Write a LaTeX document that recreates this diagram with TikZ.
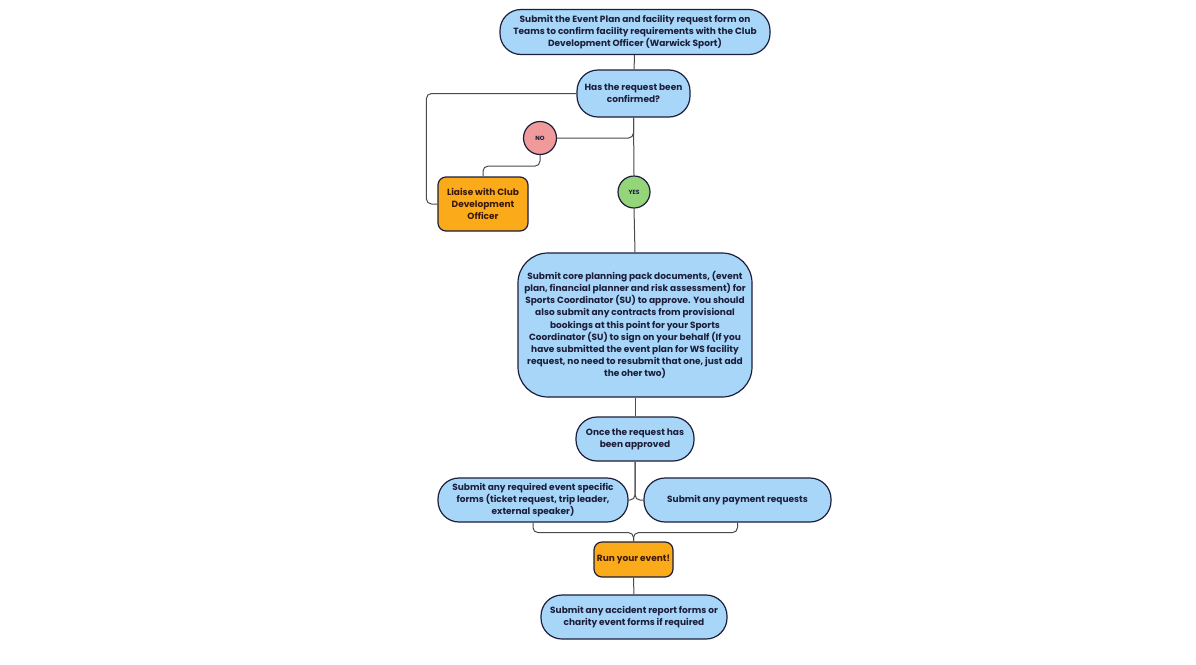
\documentclass[tikz,border=0pt]{standalone}
\usepackage{fontspec}
\setmainfont{Poppins}
\usetikzlibrary{positioning}
\definecolor{skyblue}{HTML}{A8D6F8}
\definecolor{amber}{HTML}{FBAA19}
\definecolor{rosered}{HTML}{F09A9C}
\definecolor{leafgreen}{HTML}{94D57A}
\definecolor{inkblue}{HTML}{1C1E3A}
\definecolor{inkbrown}{HTML}{3B1A0A}
\definecolor{linegray}{HTML}{4A4A4A}

\begin{document}
\begin{tikzpicture}[
        x=1pt, y=-1pt,
        blue step/.style={draw=inkblue, line width=1.2pt, fill=skyblue, rounded corners=21pt, align=center, text=inkblue, inner sep=1pt, font=\fontsize{9}{12.2}\selectfont\bfseries},
        action step/.style={draw=inkblue, line width=1.2pt, fill=amber, rounded corners=8pt, align=center, text=inkbrown, inner sep=1pt, font=\fontsize{9}{12.2}\selectfont\bfseries},
        answer/.style={circle, draw=inkblue, line width=1.2pt, inner sep=0pt, text=inkblue, font=\fontsize{6}{7}\selectfont\bfseries},
        link/.style={draw=linegray, line width=1pt, rounded corners=5pt}
    ]
        \useasboundingbox (0,0) rectangle (1196,664);

        % Request and decision
        \node[blue step, minimum width=270pt, minimum height=45pt] (plan) at (635,32) {Submit the Event Plan and facility request form on\\Teams to confirm facility requirements with the Club\\Development Officer (Warwick Sport)};
        \node[blue step, minimum width=113pt, minimum height=47pt] (confirmed) at (633.5,93.5) {Has the request been\\confirmed?};
        \node[answer, fill=rosered, minimum size=33pt] (no) at (540,138) {NO};
        \node[answer, fill=leafgreen, minimum size=32pt] (yes) at (634,192) {YES};
        \node[action step, minimum width=90pt, minimum height=54pt] (liaise) at (483,204) {Liaise with Club\\Development\\Officer};

        % Planning pack
        \node[blue step, rounded corners=30pt, minimum width=234pt, minimum height=144pt] (core) at (635,325) {Submit core planning pack documents, (event\\plan, financial planner and risk assessment) for\\Sports Coordinator (SU) to approve. You should\\also submit any contracts from provisional\\bookings at this point for your Sports\\Coordinator (SU) to sign on your behalf (If you\\have submitted the event plan for WS facility\\request, no need to resubmit that one, just add\\the oher two)};
        \node[blue step, minimum width=118pt, minimum height=44pt] (approved) at (635,439) {Once the request has\\been approved};

        % Forms and event
        \node[blue step, minimum width=190pt, minimum height=44pt] (forms) at (533,500) {Submit any required event specific\\forms (ticket request, trip leader,\\external speaker)};
        \node[blue step, minimum width=187pt, minimum height=44pt] (payment) at (737.5,500) {Submit any payment requests};
        \node[action step, minimum width=79pt, minimum height=35pt] (run) at (633.5,559.5) {Run your event!};
        \node[blue step, minimum width=186pt, minimum height=44pt] (accident) at (634,617) {Submit any accident report forms or\\charity event forms if required};

        % Connections
        \draw[link] (plan) -- (confirmed);
        \draw[link] (confirmed.west) -- ++(-150,0) |- (liaise.west);
        \draw[link] (confirmed.south) |- (no.east);
        \draw[link] (no.south) -- ++(0,11) -| (liaise.north);
        \draw[link] (confirmed.south) -- (yes.north);
        \draw[link] (yes.south) -- (core.north);
        \draw[link] (core) -- (approved);
        \draw[link] (approved.south) |- (forms.east);
        \draw[link] (approved.south) |- (payment.west);
        \draw[link] (forms.south) -- ++(0,10) -| (run.north);
        \draw[link] (payment.south) -- ++(0,10) -| (run.north);
        \draw[link] (run) -- (accident);

    \end{tikzpicture}
\end{document}
